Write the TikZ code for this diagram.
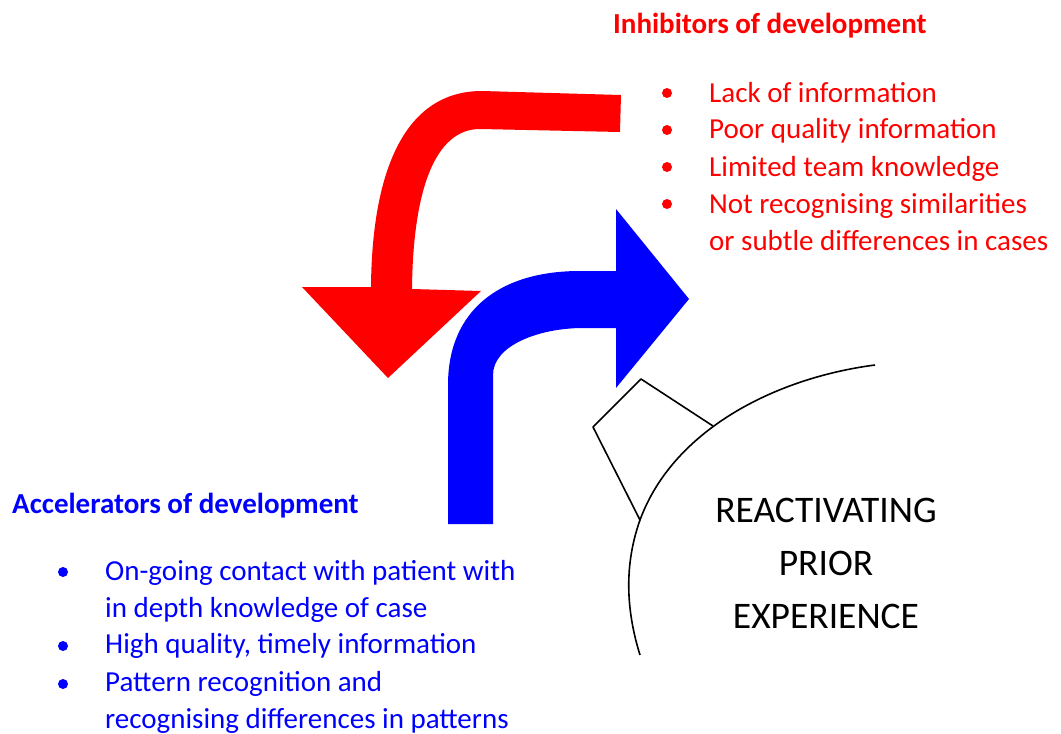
\documentclass[tikz,border=0pt]{standalone}
\usepackage{fontspec}
\setmainfont{Carlito}
\usetikzlibrary{positioning}

\tikzset{
  listtext/.style={anchor=base west, inner sep=0pt, align=left,
    font=\fontsize{29}{37}\selectfont},
  inhtext/.style={listtext, text=red},
  acctext/.style={listtext, text=blue},
  headtext/.style={listtext, font=\fontsize{29}{37}\selectfont\bfseries},
  coretext/.style={inner sep=0pt, align=center, font=\fontsize{37.5}{53}\selectfont},
  outline/.style={line width=1.6pt, line join=round}
}

\begin{document}
\begin{tikzpicture}[x=1pt, y=-1pt]
\useasboundingbox (0,0) rectangle (1061,734);
% red arrow
\fill[red] (621,95) -- (482,91) .. controls (405,91) and (372,170) .. (371,287)
  -- (302,287) -- (388,378) -- (481,291) -- (412,289)
  .. controls (413,190) and (435,129) .. (480,129) -- (620,132) -- cycle;
% blue arrow
\fill[blue] (448,524) -- (448,385) .. controls (448,310) and (500,271) .. (580,271)
  -- (616,271) -- (616,209) -- (689,299) -- (616,388) -- (616,328) -- (583,328)
  .. controls (540,328) and (493,345) .. (493,375) -- (493,524) -- cycle;
% arc and pointer
\coordinate (arcA) at (713,426);
\coordinate (arcB) at (640,520);
\draw[outline] (875,365) .. controls (775,378) and (673,430) .. (arcB)
  .. controls (624,565) and (626,610) .. (640,655);
\draw[outline] (arcA) -- (641,379) -- (593,427) -- (arcB);
% texts
\node[headtext, text=red] (inhT) at (613,33) {Inhibitors of development};
\node[inhtext] (inh1) at (709,102) {Lack of information};
\node[inhtext] (inh2) at (709,138) {Poor quality information};
\node[inhtext] (inh3) at (709,176) {Limited team knowledge};
\node[inhtext] (inh4) at (709,250) {Not recognising similarities\\or subtle differences in cases};
\foreach \y in {93,130,167,204} \fill[red] (667,\y) circle (5pt);
\node[headtext, text=blue] (accT) at (12,513) {Accelerators of development};
\node[acctext] (acc1) at (105,617) {On-going contact with patient with\\in depth knowledge of case};
\node[acctext] (acc2) at (105,653) {High quality, timely information};
\node[acctext] (acc3) at (105,728) {Pattern recognition and\\recognising differences in patterns};
\foreach \y in {572,646,684} \fill[blue] (63,\y) circle (5pt);
\node[coretext] (core) at (826,563) {REACTIVATING\\PRIOR\\EXPERIENCE};
\end{tikzpicture}
\end{document}
